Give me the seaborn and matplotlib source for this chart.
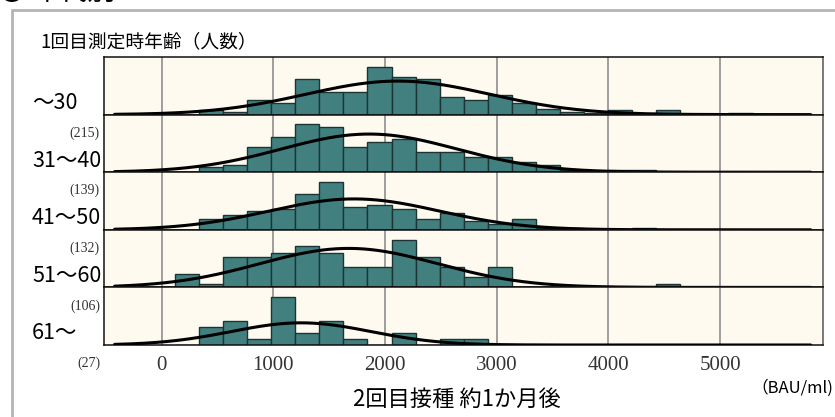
import numpy as np
import pandas as pd
import matplotlib
matplotlib.use("Agg")
import matplotlib.pyplot as plt
import seaborn as sns

# Age groups at the first measurement and number of people in each
groups = ["～30", "31～40", "41～50", "51～60", "61～"]
group_sizes = [215, 139, 132, 106, 27]

# Histogram bins (BAU/ml)
bin_start = 120.0
bin_width = 215.4
n_bins = 25

# Counts per bin for each age group
counts_30 = [0, 3, 2, 10, 8, 24, 15, 15, 32, 25, 24, 12, 10, 13, 8, 4, 2, 1, 3, 0, 3, 0, 0, 1, 0]
counts_40 = [0, 2, 3, 10, 14, 19, 18, 10, 12, 13, 8, 8, 6, 6, 4, 3, 1, 0, 1, 1, 0, 0, 0, 0, 0]
counts_50 = [0, 5, 7, 9, 10, 17, 23, 11, 12, 10, 5, 8, 4, 3, 5, 1, 1, 0, 0, 1, 0, 0, 0, 0, 0]
counts_60 = [4, 1, 9, 9, 10, 12, 10, 6, 6, 14, 9, 6, 3, 6, 0, 0, 0, 0, 0, 0, 1, 0, 0, 0, 0]
counts_61 = [0, 3, 4, 1, 8, 2, 4, 1, 0, 2, 0, 1, 1, 0, 0, 0, 0, 0, 0, 0, 0, 0, 0, 0, 0]
all_counts = [counts_30, counts_40, counts_50, counts_60, counts_61]

x_ticks = [0, 1000, 2000, 3000, 4000, 5000]
x_tick_labels = ["0", "1000", "2000", "3000", "4000", "5000"]

edges = bin_start + bin_width * np.arange(n_bins + 1)
centers = (edges[:-1] + edges[1:]) / 2

sns.set_theme(style="white")
plt.rcParams["font.family"] = ["Noto Sans CJK JP", "DejaVu Sans"]

W, H = 835, 417
fig = plt.figure(figsize=(W / 100, H / 100), dpi=100)
fig.patch.set_facecolor("white")


def fx(px):
    return px / W


def fy(py):
    return 1 - py / H


bar_color = "#428080"
bar_edge = "#1c3434"
panel_bg = "#fefaef"
grid_color = "#8e8e8e"

left_px, right_px = 104, 823
top_px, panel_h = 57.0, 57.6
x_lo, x_hi = -515, 5920
curve_x = np.linspace(-420, 5810, 400)

axes = []
for i, (label, n, counts) in enumerate(zip(groups, group_sizes, all_counts)):
    top = top_px + i * panel_h
    ax = fig.add_axes([fx(left_px), fy(top + panel_h), (right_px - left_px) / W, panel_h / H])
    ax.set_facecolor(panel_bg)
    counts = np.asarray(counts, dtype=float)
    df = pd.DataFrame({"value": centers, "count": counts})

    sns.histplot(data=df, x="value", weights="count", binwidth=bin_width,
                 binrange=(edges[0], edges[-1]), ax=ax, color=bar_color,
                 edgecolor=bar_edge, linewidth=1.0, alpha=1.0, zorder=2)

    # Normal fit from the grouped values
    mu = np.average(centers, weights=counts)
    sd = np.sqrt(np.sum(counts * (centers - mu) ** 2) / (counts.sum() - 1))
    pdf = np.exp(-0.5 * ((curve_x - mu) / sd) ** 2) / (sd * np.sqrt(2 * np.pi))
    sns.lineplot(x=curve_x, y=n * bin_width * pdf, ax=ax, color="black",
                 linewidth=2.2, zorder=3)

    ax.set_xlim(x_lo, x_hi)
    ax.set_ylim(0, counts.max() / 0.83)
    ax.set_xticks(x_ticks)
    ax.set_yticks([])
    ax.grid(axis="x", color=grid_color, linewidth=1.2)
    ax.set_axisbelow(True)
    ax.set_xlabel("")
    ax.set_ylabel("")
    ax.tick_params(axis="both", length=0)
    if i < len(groups) - 1:
        ax.set_xticklabels([])
    else:
        ax.set_xticklabels(x_tick_labels, family="Liberation Serif", fontsize=15,
                           color="#333333")
        ax.tick_params(axis="x", pad=8)
    for side, sp in ax.spines.items():
        sp.set_color("#111111")
        sp.set_linewidth(1.1)
    ax.spines["right"].set_color("#555555")

    # Age-group label and number of people
    fig.text(fx(32), fy(top + 46), label, fontsize=15.5, ha="left", va="center",
             color="black")
    fig.text(fx(100), fy(top + 76), f"({n})", fontsize=10, ha="right",
             va="center", family="Liberation Serif", color="#333333")
    axes.append(ax)

# Titles
fig.text(fx(40), fy(42), "1回目測定時年齢（人数）", fontsize=13.5, ha="left",
         va="center", color="black")
fig.text(fx(457), fy(399), "2回目接種 約1か月後", fontsize=16, ha="center",
         va="center", color="black")
fig.text(fx(833), fy(388), "（BAU/ml)", fontsize=12, ha="right", va="center",
         color="black")
fig.text(fx(-2), fy(7), "〇 年代別", fontsize=20, ha="left", va="bottom",
         color="black")

# Light frame around the chart block
fig.add_artist(plt.Line2D([fx(12), fx(12)], [fy(10), fy(420)], color="#b4b4b4",
                          linewidth=2, transform=fig.transFigure))
fig.add_artist(plt.Line2D([fx(12), fx(836)], [fy(10), fy(10)], color="#b4b4b4",
                          linewidth=2, transform=fig.transFigure))

fig.savefig("out.png", dpi=100)
